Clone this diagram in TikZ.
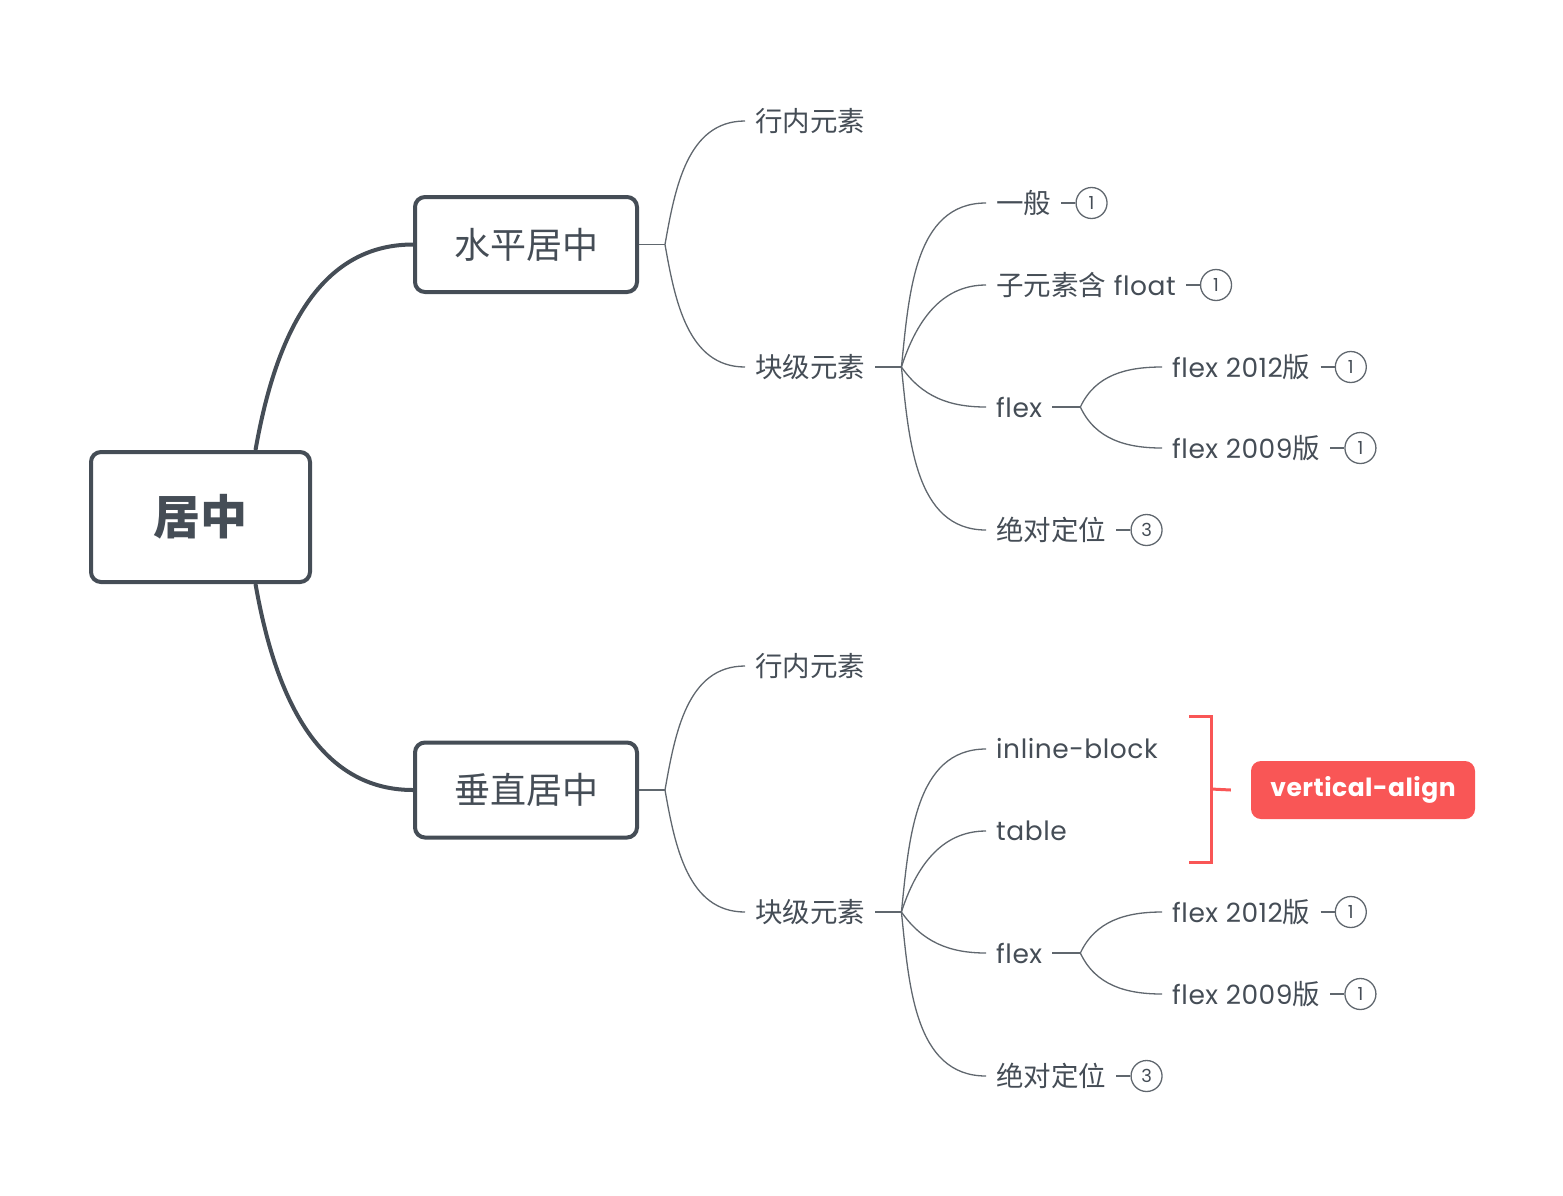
\documentclass[tikz,border=0pt]{standalone}
\usepackage{fontspec}
\setmainfont{Poppins}[LetterSpace=2]
\newfontfamily\cjk{Noto Sans CJK SC}
\usetikzlibrary{calc,positioning}
\definecolor{ink}{HTML}{454D56}
\definecolor{twig}{HTML}{60676E}
\definecolor{alert}{HTML}{F95656}
\tikzset{
  rootbox/.style={draw=ink, line width=4pt, rounded corners=10pt, fill=white,
    minimum width=219pt, minimum height=130pt, text=ink,
    font=\cjk\bfseries\fontsize{47}{50}\selectfont},
  mainbox/.style={draw=ink, line width=4pt, rounded corners=10pt, fill=white,
    minimum width=222pt, minimum height=95pt, text=ink,
    font=\cjk\fontsize{36}{40}\selectfont},
  leaf/.style={anchor=west, inner xsep=10pt, inner ysep=2pt, text=ink,
    font=\fontsize{26.5}{30}\selectfont},
  badge/.style={circle, draw=twig, line width=1.3pt, minimum size=31pt,
    inner sep=0pt, text=ink, font=\fontsize{18}{18}\selectfont},
  trunk/.style={draw=ink, line width=4pt},
  twigline/.style={draw=twig, line width=1.3pt},
  bracket/.style={draw=alert, line width=3pt},
  tag/.style={fill=alert, rounded corners=10pt, minimum width=224pt,
    minimum height=58pt, text=white, font=\bfseries\fontsize{25}{30}\selectfont}
}
\newcommand{\zh}[1]{{\cjk\fontsize{27.5}{30}\selectfont #1}}

\begin{document}
\begin{tikzpicture}[x=1pt,y=-1pt]
  \useasboundingbox (0,0) rectangle (1563,1195);
  % root and the two main topics
  \node[rootbox] (root) at (200.5,517) {居中};
  \node[mainbox] (h) at (526,244.5) {水平居中};
  \node[mainbox] (v) at (526,790) {垂直居中};
  \draw[trunk] ($(root.north)+(55,0)$) to[out=80,in=180] (h.west);
  \draw[trunk] ($(root.south)+(55,0)$) to[out=-80,in=180] (v.west);

  % ---- horizontal ----
  \coordinate (hj) at ($(h.east)+(26,0)$);
  \node[leaf] (h1) at (745,121) {\zh{行内元素}};
  \node[leaf] (h2) at (745,367) {\zh{块级元素}};
  \draw[twigline] (h.east) -- (hj);
  \draw[twigline] (hj) to[out=80,in=180] (h1.west);
  \draw[twigline] (hj) to[out=-80,in=180] (h2.west);

  \coordinate (h2j) at ($(h2.east)+(26,0)$);
  \draw[twigline] (h2.east) -- (h2j);
  \node[leaf] (h21) at (986,203) {\zh{一般}};
  \node[leaf] (h22) at (986,285) {\zh{子元素含} float};
  \node[leaf] (h23) at (986,407) {flex};
  \node[leaf] (h24) at (986,530) {\zh{绝对定位}};
  \foreach \c/\o in {h21/84, h22/72, h23/-55, h24/-84}
    \draw[twigline] (h2j) to[out=\o,in=180] (\c.west);

  \coordinate (h23j) at ($(h23.east)+(28,0)$);
  \draw[twigline] (h23.east) -- (h23j);
  \node[leaf] (h231) at (1162,367) {flex 2012\zh{版}};
  \node[leaf] (h232) at (1162,448) {flex 2009\zh{版}};
  \draw[twigline] (h23j) to[out=65,in=180] (h231.west);
  \draw[twigline] (h23j) to[out=-65,in=180] (h232.west);

  \node[badge, right=14pt of h21] (b21) {1};
  \node[badge, right=14pt of h22] (b22) {1};
  \node[badge, right=14pt of h231] (b231) {1};
  \node[badge, right=14pt of h232] (b232) {1};
  \node[badge, right=14pt of h24] (b24) {3};
  \foreach \a/\b in {h21/b21, h22/b22, h231/b231, h232/b232, h24/b24}
    \draw[twigline] (\a.east) -- (\b.west);

  % ---- vertical ----
  \coordinate (vj) at ($(v.east)+(26,0)$);
  \node[leaf] (v1) at (745,666) {\zh{行内元素}};
  \node[leaf] (v2) at (745,912) {\zh{块级元素}};
  \draw[twigline] (v.east) -- (vj);
  \draw[twigline] (vj) to[out=80,in=180] (v1.west);
  \draw[twigline] (vj) to[out=-80,in=180] (v2.west);

  \coordinate (v2j) at ($(v2.east)+(26,0)$);
  \draw[twigline] (v2.east) -- (v2j);
  \node[leaf] (v21) at (986,749) {inline-block};
  \node[leaf] (v22) at (986,831) {table};
  \node[leaf] (v23) at (986,953) {flex};
  \node[leaf] (v24) at (986,1076) {\zh{绝对定位}};
  \foreach \c/\o in {v21/84, v22/72, v23/-55, v24/-84}
    \draw[twigline] (v2j) to[out=\o,in=180] (\c.west);

  \coordinate (v23j) at ($(v23.east)+(28,0)$);
  \draw[twigline] (v23.east) -- (v23j);
  \node[leaf] (v231) at (1162,912) {flex 2012\zh{版}};
  \node[leaf] (v232) at (1162,994) {flex 2009\zh{版}};
  \draw[twigline] (v23j) to[out=65,in=180] (v231.west);
  \draw[twigline] (v23j) to[out=-65,in=180] (v232.west);

  \node[badge, right=14pt of v231] (c231) {1};
  \node[badge, right=14pt of v232] (c232) {1};
  \node[badge, right=14pt of v24] (c24) {3};
  \foreach \a/\b in {v231/c231, v232/c232, v24/c24}
    \draw[twigline] (\a.east) -- (\b.west);

  % summary bracket
  \node[tag] (va) at (1363,790) {vertical-align};
  \coordinate (st) at (1211,716);
  \coordinate (sb) at (1211,862);
  \draw[bracket] ($(st)+(-22,0)$) -- (st) -- (sb) -- ($(sb)+(-22,0)$);
  \draw[bracket] ($(st)!0.5!(sb)$) -- ($(va.west)+(-20,0)$);
\end{tikzpicture}
\end{document}
